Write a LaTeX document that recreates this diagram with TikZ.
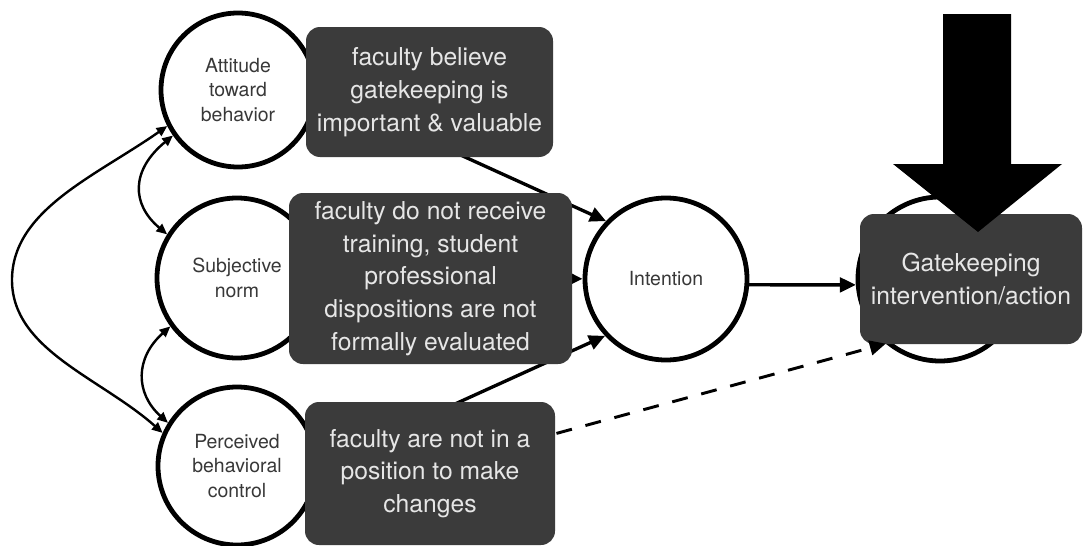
\documentclass[tikz,border=0pt]{standalone}
\usepackage{fontspec}
\setmainfont{TeX Gyre Heros}
\usetikzlibrary{arrows.meta}
\definecolor{boxfill}{HTML}{3B3B3B}
\definecolor{boxtext}{HTML}{E6E6E6}
\definecolor{circtext}{HTML}{383838}
\begin{document}
\begin{tikzpicture}[x=0.75pt,y=-0.75pt,
  circ/.style={circle, draw=black, line width=3.6pt, fill=white, inner sep=0pt,
    text=circtext, font=\fontsize{14.6}{18.4}\selectfont, align=center},
  dbox/.style={rectangle, rounded corners=10.5pt, fill=boxfill, text=boxtext,
    font=\fontsize{18.5}{24.5}\selectfont, align=center, inner sep=0pt},
  conn/.style={line width=2.5pt, -{Triangle[length=12pt,width=11pt]}},
  dconn/.style={line width=2.2pt, dash pattern=on 12pt off 10.5pt, -{Triangle[length=12pt,width=11pt]}},
  curv/.style={line width=1.8pt, {Triangle[length=8pt,width=7pt]}-{Triangle[length=8pt,width=7pt]}},
]
\useasboundingbox (0,0) rectangle (1086,546);

% circles
\node[circ, minimum size=115.5pt] (att) at (238,90) {Attitude\\toward\\behavior};
\node[circ, minimum size=120pt] (sub) at (237,278) {Subjective\\norm};
\node[circ, minimum size=118.5pt] (per) at (237,466) {Perceived\\behavioral\\control};
\node[circ, minimum size=121.5pt] (int) at (666,279) {Intention};
\node[circ, minimum size=123pt] (beh) at (940,279) {};

% gatekeeping box
\node[dbox, minimum width=166.5pt, minimum height=97.5pt] (gk) at (971,279) {Gatekeeping\\intervention/action};

% connectors
\coordinate (bulge) at (12,280);
\draw[curv] (att.207) .. controls (96,176) and (12,210) .. (bulge) .. controls (12,350) and (101,378) .. (per.156);
\draw[curv] (att.215) .. controls (131,170) and (131,204) .. (sub.148);
\draw[curv] (sub.216) .. controls (135,358) and (135,393) .. (per.148);

\draw[conn] (att.east) -- (int.136);
\draw[conn] (sub) -- (int);
\draw[conn] (per.east) -- (int.223);
\draw[conn] (int.-4) -- (beh.184);
\draw[dconn, shorten <=191pt] (per.-25) -- (beh.230);

% boxes
\node[dbox, minimum width=185.25pt, minimum height=97.5pt] (b1) at (429.5,92)
  {faculty believe\\gatekeeping is\\important \& valuable};
\node[dbox, minimum width=212.25pt, minimum height=128.25pt] (b2) at (430.5,278.5)
  {faculty do not receive\\training, student\\professional\\dispositions are not\\formally evaluated};
\node[dbox, minimum width=187.5pt, minimum height=107.25pt] (b3) at (430,473.5)
  {faculty are not in a\\position to make\\changes};

% big arrow
\fill[black] (943,14) -- (1011,14) -- (1011,164) -- (1062,164) -- (978,232) -- (893,164) -- (943,164) -- cycle;
\end{tikzpicture}
\end{document}
